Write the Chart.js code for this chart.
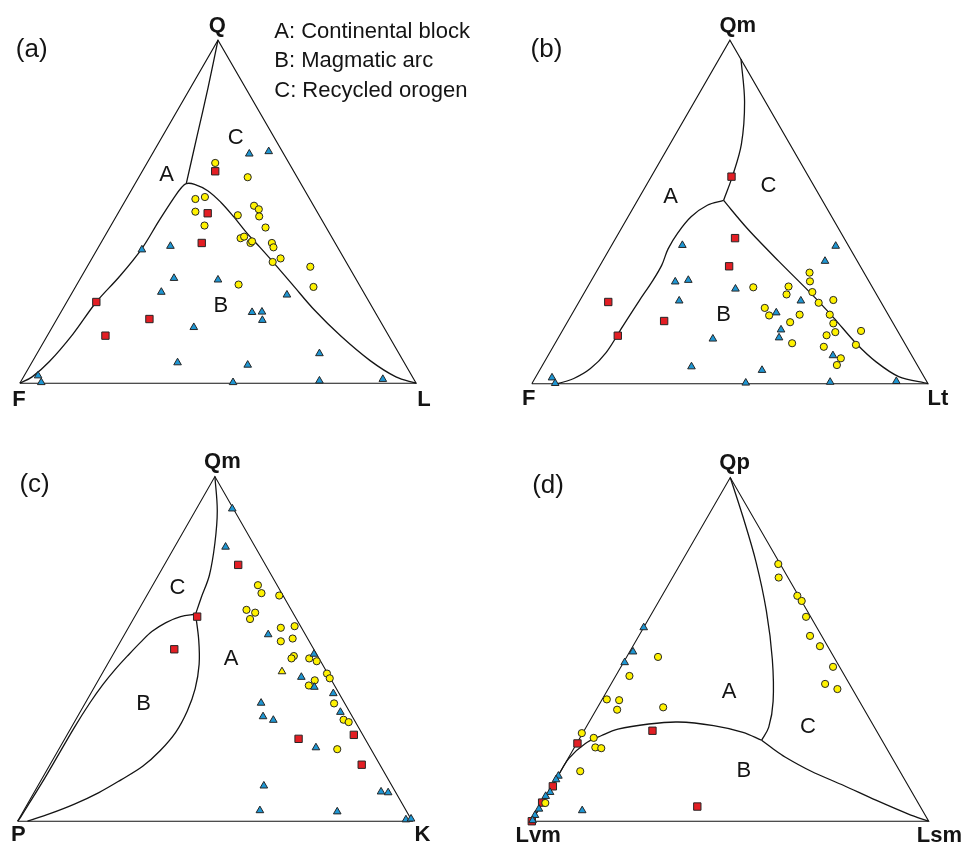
<!DOCTYPE html>
<html>
<head>
<meta charset="utf-8">
<script src="https://cdn.jsdelivr.net/npm/chart.js@4.4.0/dist/chart.umd.min.js"></script>
<style>
  html, body { margin: 0; padding: 0; background: #ffffff; }
  #wrap { position: relative; width: 969px; height: 852px; overflow: hidden; }
  #wrap canvas { position: absolute; }
</style>
</head>
<body>
<div id="wrap">
  <canvas id="pa" width="484" height="426" style="left:0;top:0"></canvas>
  <canvas id="pb" width="485" height="426" style="left:484px;top:0"></canvas>
  <canvas id="pc" width="484" height="426" style="left:0;top:426px"></canvas>
  <canvas id="pd" width="485" height="426" style="left:484px;top:426px"></canvas>
</div>
<script>
// Ternary points are stored as [x, y] in the triangle frame:
// left apex (0,0), right apex (100,0), top apex (50,86.6).

// ---- (a) Q-F-L ----
const qflCircles = [[49.3,55.6],[57.5,52.0],[44.3,46.5],[46.7,47.0],[44.3,43.3],[46.6,39.8],[59.1,44.8],[60.3,43.9],[60.4,42.1],[55.0,42.4],[62.0,39.3],[55.7,36.6],[56.6,37.0],[58.2,35.4],[58.6,35.8],[63.6,35.4],[64.0,34.3],[65.8,31.5],[63.8,30.6],[73.3,29.4],[74.1,24.3],[55.2,24.9]];
const qflSquares = [[49.3,53.5],[47.4,42.9],[45.9,35.4],[19.3,20.5],[32.7,16.2],[21.6,12.0]];
const qflTriangles = [[57.9,57.9],[62.8,58.5],[30.8,33.7],[38.0,34.6],[38.9,26.5],[50.0,26.1],[35.7,23.0],[67.4,22.3],[58.6,17.9],[61.1,18.0],[61.2,15.9],[43.9,14.1],[75.6,7.5],[39.8,5.2],[57.5,4.6],[4.6,1.9],[5.4,0.2],[53.8,0.2],[75.6,0.6],[91.6,1.0]];
const qflFieldAC = [[50,86.6],[47.5,74.6],[44.7,62.3],[42.0,50.4]];
const qflFieldB = [[0,0],[3.1,1.6],[7.4,5.4],[13.4,12.4],[19.3,20.5],[25.2,27.0],[30.8,34.0],[35.1,41.0],[39.0,47.0],[40.8,49.4],[42.0,50.4],[44.1,50.2],[47.4,48.6],[50.7,45.7],[53.9,42.1],[57.2,38.0],[60.5,34.4],[63.8,30.7],[68.7,25.0],[74.4,18.4],[81.0,11.9],[88.4,5.7],[94.9,1.6],[100,0]];

// ---- (b) Qm-F-Lt ----
const qmfltCircles = [[55.9,24.3],[64.8,24.5],[64.3,22.5],[70.1,28.0],[70.2,25.8],[70.8,23.1],[72.4,20.4],[76.1,21.1],[58.8,19.1],[59.9,17.2],[67.6,17.4],[65.2,15.5],[75.2,17.4],[76.1,15.2],[76.6,13.0],[74.4,12.2],[83.1,13.3],[65.7,10.2],[73.7,9.3],[81.8,9.8],[78.0,6.4],[77.0,4.7]];
const qmfltSquares = [[50.4,52.2],[51.3,36.7],[49.8,29.6],[19.3,20.6],[33.4,15.8],[21.7,12.1]];
const qmfltTriangles = [[38.0,34.9],[76.7,34.7],[74.0,30.9],[36.2,25.7],[39.5,26.1],[51.4,23.9],[37.2,20.9],[67.9,20.9],[61.7,17.9],[62.9,13.6],[62.4,11.6],[45.7,11.3],[76.0,7.1],[40.3,4.3],[58.1,3.4],[5.1,1.5],[5.9,0.1],[54.0,0.2],[75.3,0.4],[92.0,0.6]];
const qmfltFieldAC = [[52.8,81.8],[53.7,71.1],[52.9,60.4],[50.6,52.2],[48.4,46.2]];
const qmfltFieldAB = [[48.4,46.2],[44.3,45.0],[40.2,42.1],[36.9,38.1],[34.4,34.0],[32.8,29.9],[30.4,25.8],[27.1,20.9],[22.9,14.4],[18.8,7.9],[14.8,3.8],[10.6,1.3],[6.5,0],[5.3,0]];
const qmfltFieldBC = [[48.4,46.2],[54.5,39.0],[62.3,30.9],[70.5,22.7],[76.2,16.6],[82.0,10.0],[86.9,5.5],[92.6,1.8],[100,0]];

// ---- (c) Qm-P-K ----
const qmpkCircles = [[60.9,59.3],[61.8,57.3],[66.3,56.7],[58.0,53.1],[60.2,52.4],[58.9,50.8],[66.7,48.6],[70.2,49.0],[69.7,45.9],[66.7,45.2],[70.0,41.5],[69.4,40.9],[73.9,40.9],[75.8,40.2],[78.4,37.1],[79.1,35.9],[75.3,35.4],[73.8,34.1],[80.2,29.6],[82.6,25.5],[83.9,24.9],[81.0,18.1]];
const qmpkSquares = [[55.9,64.4],[45.5,51.4],[39.7,43.2],[71.2,20.7],[85.2,21.7],[87.2,14.2]];
const qmpkTriangles = [[54.4,78.5],[52.7,68.9],[63.5,46.9],[75.1,42.0],[71.9,36.2],[75.2,33.7],[80.0,32.1],[61.7,29.7],[81.8,27.4],[62.2,26.3],[64.8,25.4],[75.6,18.5],[62.4,8.9],[92.1,7.4],[93.9,7.2],[61.4,2.7],[81.0,2.4],[98.4,0.4],[99.7,0.6]];
const qmpkYellowTriangles = [[67.0,37.6]];
const qmpkFieldCA = [[50,86.6],[50.6,78.0],[50.0,69.9],[48.6,61.8],[46.5,56.1],[45.1,52.0]];
const qmpkFieldBC = [[45.1,52.0],[41.3,51.4],[37.6,49.9],[34.1,47.7],[31.2,45.0],[28.2,41.9],[24.8,38.2],[21.6,34.3],[18.3,29.7],[14.4,23.6],[10.4,16.8],[6.5,10.2],[3.0,4.6],[0.7,0.9],[0,0]];
const qmpkFieldBA = [[45.1,52.0],[45.9,45.5],[46.0,39.4],[45.0,33.3],[43.0,27.7],[40.1,22.4],[36.1,17.7],[31.7,13.8],[26.2,10.4],[20.6,7.2],[14.4,4.3],[8.2,1.9],[2.5,0]];

// ---- (d) Qp-Lvm-Lsm ----
const qplvlsCircles = [[62.1,64.8],[62.2,61.4],[66.9,56.8],[68.0,55.5],[69.1,51.5],[70.1,46.7],[72.6,44.1],[75.9,38.9],[73.9,34.6],[77.0,33.3],[31.8,41.4],[24.6,36.6],[18.9,30.7],[22.0,30.5],[21.5,28.1],[33.1,28.7],[12.6,22.2],[15.6,21.0],[16.0,18.6],[17.5,18.4],[12.2,12.6],[3.4,4.6]];
const qplvlsSquares = [[11.5,19.6],[30.4,22.8],[5.3,8.8],[2.6,4.7],[0,0],[41.7,3.7]];
const qplvlsTriangles = [[28.2,48.8],[25.5,42.7],[23.4,40.0],[6.7,11.4],[6.1,10.5],[4.6,7.3],[3.5,6.3],[1.8,3.1],[0.8,1.5],[0.2,0.2],[12.7,2.7]];
const qplvlsFieldAC = [[50,86.6],[53.2,76.7],[56.5,65.3],[59.1,53.0],[60.6,40.8],[60.8,30.2],[59.7,23.7],[57.9,20.4]];
const qplvlsFieldAB = [[57.9,20.4],[53.2,22.4],[45.8,24.1],[36.8,25.0],[29.5,24.5],[21.7,23.2],[17.6,21.6],[13.5,19.6],[9.4,15.9],[6.6,11.4],[3.3,5.7],[0,0]];
const qplvlsFieldBC = [[57.9,20.4],[60.6,18.4],[63.8,16.2],[70.4,12.6],[78.6,9.0],[86.7,5.3],[94.9,1.8],[100,0]];

const legendLines = ['A: Continental block', 'B: Magmatic arc', 'C: Recycled orogen'];

// ---- styling ----
const FONT = '"Liberation Sans", Arial, Helvetica, sans-serif';
const INK = '#141414';
const YELLOW = '#FFF200';
const RED = '#E31E24';
const BLUE = '#1E96D3';
const EDGE = '#262626';
const FRAME = [[0,0],[100,0],[50,86.6],[0,0]];

const toXY = arr => arr.map(([x, y]) => ({ x, y }));

function lineSet(arr, width, tension) {
  return {
    data: toXY(arr), showLine: true, fill: false,
    borderColor: INK, borderWidth: width, tension: tension,
    borderJoinStyle: 'miter', pointRadius: 0, order: 5
  };
}
function markerSet(arr, style, radius, color, order) {
  return {
    data: toXY(arr), showLine: false,
    pointStyle: style, pointRadius: radius,
    pointBackgroundColor: color, pointBorderColor: EDGE, pointBorderWidth: 1,
    order: order
  };
}
function markers(circles, squares, triangles) {
  return [
    markerSet(squares, 'rect', 5.2, RED, 3),
    markerSet(circles, 'circle', 3.6, YELLOW, 2),
    markerSet(triangles, 'triangle', 4.4, BLUE, 1)
  ];
}

// text drawn in triangle-frame coordinates
const ternaryText = {
  id: 'ternaryText',
  afterDatasetsDraw(chart, args, opts) {
    const ctx = chart.ctx;
    const sx = chart.scales.x, sy = chart.scales.y;
    ctx.save();
    ctx.fillStyle = INK;
    ctx.textBaseline = 'middle';
    for (const t of opts.items) {
      ctx.font = t.font;
      ctx.textAlign = t.align || 'center';
      ctx.fillText(t.text, sx.getPixelForValue(t.x), sy.getPixelForValue(t.y));
    }
    ctx.restore();
  }
};

const apexFont = 'bold 22px ' + FONT;
const fieldFont = '22px ' + FONT;
const tagFont = '26px ' + FONT;

const panels = [
  {
    id: 'pa', origin: [14, 388.3], unit: [4.067, 4.08],
    lines: [lineSet(qflFieldAC, 1.3, 0.3), lineSet(qflFieldB, 1.3, 0.35)],
    marks: markers(qflCircles, qflSquares, qflTriangles),
    text: [
      { text: '(a)', x: 3.0, y: 84.1, font: tagFont },
      { text: 'Q', x: 49.8, y: 90.1, font: apexFont },
      { text: 'F', x: -0.2, y: -4.1, font: apexFont },
      { text: 'L', x: 102.0, y: -4.1, font: apexFont },
      { text: 'A', x: 37.0, y: 52.5, font: fieldFont },
      { text: 'C', x: 54.5, y: 61.8, font: fieldFont },
      { text: 'B', x: 50.7, y: 19.6, font: fieldFont },
      { text: legendLines[0], x: 64.2, y: 88.6, font: fieldFont, align: 'left' },
      { text: legendLines[1], x: 64.2, y: 81.3, font: fieldFont, align: 'left' },
      { text: legendLines[2], x: 64.2, y: 73.8, font: fieldFont, align: 'left' }
    ]
  },
  {
    id: 'pb', origin: [42.7, 388.8], unit: [4.066, 4.085],
    lines: [lineSet(qmfltFieldAC, 1.3, 0.35), lineSet(qmfltFieldAB, 1.3, 0.35), lineSet(qmfltFieldBC, 1.3, 0.3)],
    marks: markers(qmfltCircles, qmfltSquares, qmfltTriangles),
    text: [
      { text: '(b)', x: 3.7, y: 84.2, font: tagFont },
      { text: 'Qm', x: 52.0, y: 90.1, font: apexFont },
      { text: 'F', x: -0.8, y: -3.8, font: apexFont },
      { text: 'Lt', x: 102.5, y: -3.8, font: apexFont },
      { text: 'A', x: 35.0, y: 47.0, font: fieldFont },
      { text: 'C', x: 59.7, y: 49.8, font: fieldFont },
      { text: 'B', x: 48.4, y: 17.3, font: fieldFont }
    ]
  },
  {
    id: 'pc', origin: [11.7, 400.7], unit: [4.05, 4.1],
    lines: [lineSet(qmpkFieldCA, 1.3, 0.35), lineSet(qmpkFieldBC, 1.3, 0.35), lineSet(qmpkFieldBA, 1.3, 0.35)],
    marks: markers(qmpkCircles, qmpkSquares, qmpkTriangles)
      .concat([markerSet(qmpkYellowTriangles, 'triangle', 4.4, YELLOW, 0)]),
    text: [
      { text: '(c)', x: 4.3, y: 84.4, font: tagFont },
      { text: 'Qm', x: 51.9, y: 90.2, font: apexFont },
      { text: 'P', x: 0.2, y: -3.4, font: apexFont },
      { text: 'K', x: 102.6, y: -3.4, font: apexFont },
      { text: 'C', x: 40.5, y: 58.5, font: fieldFont },
      { text: 'A', x: 54.1, y: 40.8, font: fieldFont },
      { text: 'B', x: 31.9, y: 29.5, font: fieldFont }
    ]
  },
  {
    id: 'pd', origin: [42.7, 400.7], unit: [4.073, 4.088],
    lines: [lineSet(qplvlsFieldAC, 1.3, 0.35), lineSet(qplvlsFieldAB, 1.3, 0.35), lineSet(qplvlsFieldBC, 1.3, 0.3)],
    marks: markers(qplvlsCircles, qplvlsSquares, qplvlsTriangles),
    text: [
      { text: '(d)', x: 4.1, y: 84.6, font: tagFont },
      { text: 'Qp', x: 51.1, y: 90.4, font: apexFont },
      { text: 'Lvm', x: 1.6, y: -3.7, font: apexFont },
      { text: 'Lsm', x: 102.7, y: -3.7, font: apexFont },
      { text: 'A', x: 49.7, y: 32.6, font: fieldFont },
      { text: 'C', x: 69.6, y: 23.7, font: fieldFont },
      { text: 'B', x: 53.4, y: 12.6, font: fieldFont }
    ]
  }
];

for (const p of panels) {
  const canvas = document.getElementById(p.id);
  const w = canvas.width, h = canvas.height;
  const frame = lineSet(FRAME, 1.1, 0);
  frame.order = 6;
  new Chart(canvas, {
    type: 'scatter',
    data: { datasets: [frame].concat(p.lines, p.marks) },
    options: {
      responsive: false,
      animation: false,
      devicePixelRatio: 1,
      events: [],
      layout: { padding: 0 },
      scales: {
        x: { type: 'linear', display: false,
             min: -p.origin[0] / p.unit[0], max: (w - p.origin[0]) / p.unit[0] },
        y: { type: 'linear', display: false,
             min: -(h - p.origin[1]) / p.unit[1], max: p.origin[1] / p.unit[1] }
      },
      plugins: {
        legend: { display: false },
        tooltip: { enabled: false },
        ternaryText: { items: p.text }
      }
    },
    plugins: [ternaryText]
  });
}
</script>
</body>
</html>
